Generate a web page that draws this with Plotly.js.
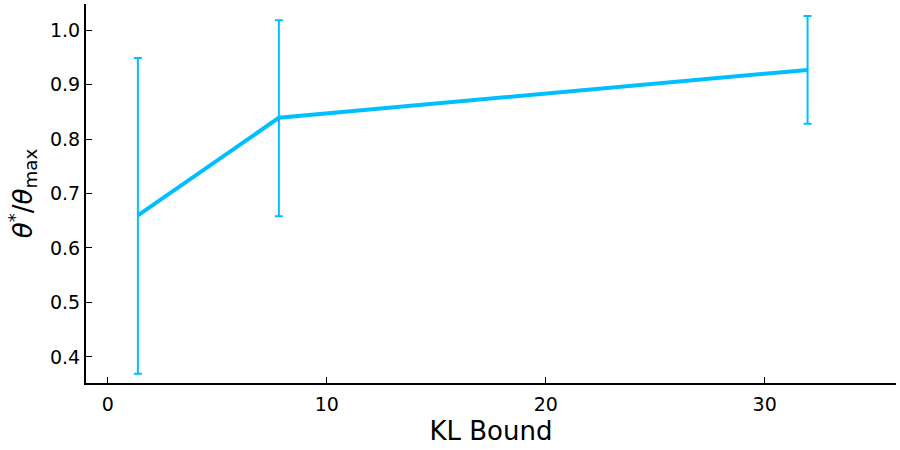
<!DOCTYPE html>
<html>
<head>
<meta charset="utf-8">
<script src="https://cdn.plot.ly/plotly-3.0.1.min.js"></script>
<style>
  html, body { margin: 0; padding: 0; background: #fff; }
  #kl-plot { width: 900px; height: 450px; }
</style>
</head>
<body>
<div id="kl-plot"></div>
<script>
// values
const klBound = [1.37, 7.81, 31.96];
const thetaRatio = [0.660, 0.839, 0.927];
const errUpper = [0.949, 1.018, 1.026];
const errLower = [0.369, 0.658, 0.828];

function createKLPlot() {
    const trace = {
        type: 'scatter',
        mode: 'lines',
        x: klBound,
        y: thetaRatio,
        line: { color: '#00BFFF', width: 4 },
        error_y: {
            type: 'data',
            symmetric: false,
            array: errUpper.map((v, i) => v - thetaRatio[i]),
            arrayminus: errLower.map((v, i) => thetaRatio[i] - v),
            color: '#00BFFF',
            thickness: 2,
            width: 4
        },
        hoverinfo: 'skip'
    };

    const tickFont = { family: 'DejaVu Sans', size: 19, color: '#000' };

    const layout = {
        width: 900,
        height: 450,
        paper_bgcolor: '#fff',
        plot_bgcolor: '#fff',
        showlegend: false,
        margin: { l: 86, r: 4, t: 4, b: 67 },
        font: { family: 'DejaVu Sans', color: '#000' },
        xaxis: {
            range: [-1, 36],
            tickvals: [0, 10, 20, 30],
            ticktext: ['0', '10', '20', '30'],
            showgrid: false,
            zeroline: false,
            showline: true,
            linecolor: '#000',
            linewidth: 2,
            ticks: 'inside',
            ticklen: 6,
            tickwidth: 1,
            tickcolor: '#000',
            tickfont: tickFont,
            ticklabelstandoff: 3,
            title: {
                text: 'KL Bound',
                font: { family: 'DejaVu Sans', size: 26, color: '#000' },
                standoff: 8
            }
        },
        yaxis: {
            range: [0.352, 1.048],
            tickvals: [0.4, 0.5, 0.6, 0.7, 0.8, 0.9, 1.0],
            ticktext: ['0.4', '0.5', '0.6', '0.7', '0.8', '0.9', '1.0'],
            showgrid: false,
            zeroline: false,
            showline: true,
            linecolor: '#000',
            linewidth: 2,
            ticks: 'inside',
            ticklen: 6,
            tickwidth: 1,
            tickcolor: '#000',
            tickfont: tickFont,
            title: {
                text: '<i>θ</i><sup>*</sup>/<i>θ</i><sub>max</sub>',
                font: { family: 'DejaVu Sans', size: 26, color: '#000' },
                standoff: 10
            }
        }
    };

    Plotly.newPlot('kl-plot', [trace], layout, { displayModeBar: false, staticPlot: true });
}

createKLPlot();
</script>
</body>
</html>
